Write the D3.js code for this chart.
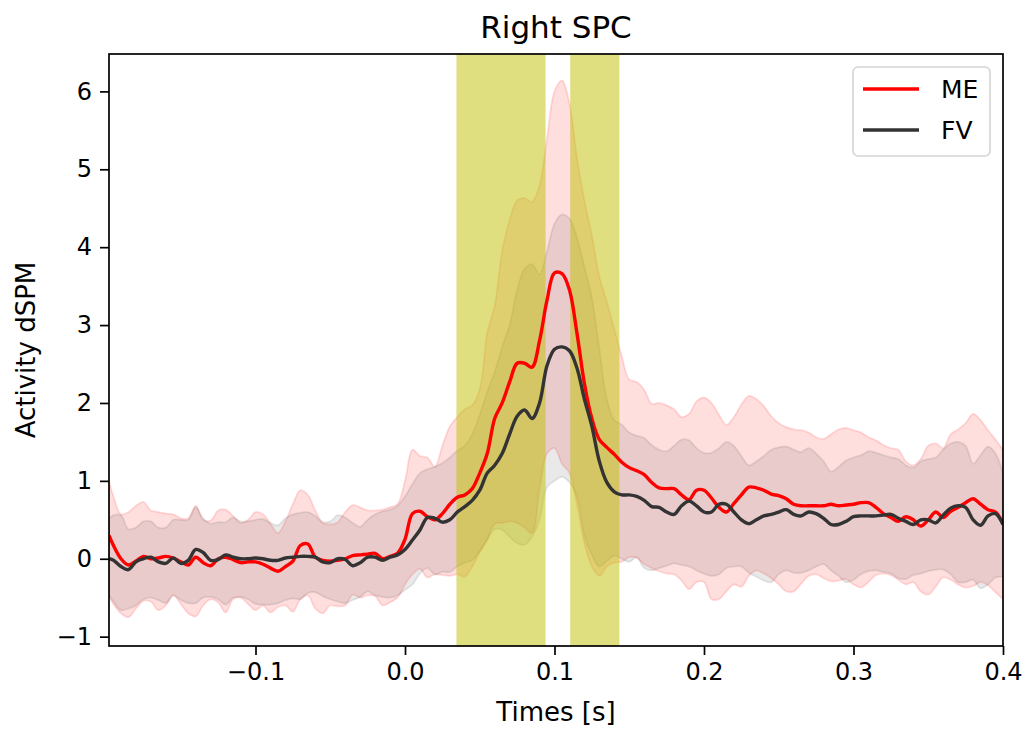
<!DOCTYPE html>
<html>
<head>
<meta charset="utf-8">
<script src="https://cdn.jsdelivr.net/npm/d3@7"></script>
<style>
  html, body { margin: 0; padding: 0; background: #ffffff; }
  svg { display: block; }
  text { font-family: "DejaVu Sans", sans-serif; }
</style>
</head>
<body>
<svg id="chart" width="1025" height="729"></svg>
<script>
// ---------------- data ----------------
const times = [-0.198,-0.195,-0.19,-0.185,-0.18,-0.175,-0.17,-0.165,-0.16,-0.155,-0.15,-0.145,-0.14,-0.135,-0.13,-0.125,-0.12,-0.115,-0.11,-0.105,-0.1,-0.095,-0.09,-0.085,-0.08,-0.075,-0.07,-0.065,-0.06,-0.055,-0.05,-0.045,-0.04,-0.035,-0.03,-0.025,-0.02,-0.015,-0.01,-0.005,0,0.005,0.01,0.015,0.02,0.025,0.03,0.035,0.04,0.045,0.05,0.055,0.06,0.065,0.07,0.075,0.08,0.085,0.09,0.095,0.1,0.105,0.11,0.115,0.12,0.125,0.13,0.135,0.14,0.145,0.15,0.155,0.16,0.165,0.17,0.175,0.18,0.185,0.19,0.195,0.2,0.205,0.21,0.215,0.22,0.225,0.23,0.235,0.24,0.245,0.25,0.255,0.26,0.265,0.27,0.275,0.28,0.285,0.29,0.295,0.3,0.305,0.31,0.315,0.32,0.325,0.33,0.335,0.34,0.345,0.35,0.355,0.36,0.365,0.37,0.375,0.38,0.385,0.39,0.395,0.4];

const meMean = [0.30,0.17,0.0,-0.08,-0.03,0.03,0.0,0.01,0.03,0.01,
-0.04,-0.08,0.02,-0.05,-0.09,0.0,0.02,-0.01,-0.05,-0.04,
-0.04,-0.07,-0.12,-0.16,-0.1,-0.03,0.17,0.19,0.02,-0.02,
-0.03,-0.02,0.0,0.04,0.05,0.06,0.07,0.0,0.03,0.07,
0.25,0.58,0.61,0.54,0.5,0.58,0.7,0.79,0.82,0.9,
1.1,1.35,1.8,2.0,2.27,2.51,2.51,2.46,2.8,3.32,
3.67,3.66,3.45,2.9,2.25,1.8,1.53,1.43,1.34,1.24,
1.17,1.13,1.08,0.98,0.91,0.9,0.9,0.82,0.76,0.88,
0.88,0.78,0.66,0.6,0.71,0.82,0.92,0.91,0.88,0.83,
0.81,0.77,0.7,0.68,0.68,0.68,0.68,0.7,0.68,0.69,
0.7,0.72,0.72,0.66,0.58,0.53,0.48,0.54,0.5,0.42,
0.5,0.6,0.53,0.61,0.66,0.72,0.77,0.7,0.63,0.6,
0.45];

const meUpper = [1.0,0.8,0.57,0.6,0.68,0.73,0.62,0.6,0.58,0.57,
0.52,0.52,0.68,0.5,0.49,0.62,0.63,0.55,0.46,0.5,
0.6,0.57,0.45,0.33,0.48,0.7,0.88,0.82,0.62,0.46,
0.44,0.47,0.6,0.69,0.66,0.62,0.62,0.63,0.66,0.7,
1.0,1.4,1.32,1.3,1.18,1.45,1.7,1.82,1.92,1.97,
2.18,2.9,3.25,3.95,4.35,4.6,4.63,4.58,4.8,5.4,
6.0,6.14,5.85,5.15,4.6,4.15,3.62,3.3,2.95,2.6,
2.3,2.27,2.17,1.99,2.0,1.97,1.92,1.82,1.86,2.02,
2.07,2.0,1.85,1.72,1.82,1.98,2.09,2.05,1.96,1.83,
1.74,1.69,1.66,1.65,1.62,1.56,1.54,1.6,1.66,1.68,
1.65,1.62,1.56,1.52,1.46,1.42,1.4,1.25,1.2,1.28,
1.45,1.48,1.42,1.6,1.66,1.74,1.86,1.78,1.65,1.53,
1.4];

const meLower = [-0.48,-0.58,-0.7,-0.75,-0.64,-0.54,-0.55,-0.66,-0.6,-0.47,
-0.58,-0.7,-0.74,-0.6,-0.52,-0.56,-0.69,-0.52,-0.5,-0.58,
-0.66,-0.6,-0.69,-0.62,-0.6,-0.68,-0.52,-0.47,-0.64,-0.7,
-0.6,-0.61,-0.6,-0.46,-0.5,-0.47,-0.48,-0.6,-0.56,-0.5,
-0.33,-0.2,-0.13,-0.24,-0.2,-0.21,-0.22,-0.2,-0.23,-0.1,
0.08,0.25,0.45,0.46,0.48,0.46,0.4,0.33,0.9,1.35,
1.42,1.22,1.1,0.7,0.2,-0.1,-0.22,-0.1,-0.05,-0.04,
0.02,0.01,-0.07,-0.12,-0.16,-0.19,-0.2,-0.28,-0.39,-0.3,
-0.3,-0.52,-0.52,-0.42,-0.33,-0.36,-0.22,-0.15,-0.19,-0.25,
-0.33,-0.42,-0.42,-0.32,-0.22,-0.2,-0.25,-0.29,-0.28,-0.26,
-0.33,-0.37,-0.3,-0.21,-0.19,-0.21,-0.27,-0.33,-0.3,-0.42,
-0.46,-0.36,-0.24,-0.27,-0.33,-0.37,-0.35,-0.3,-0.34,-0.43,
-0.52];

const fvMean = [0.0,-0.02,-0.1,-0.14,-0.04,0.0,0.02,-0.04,-0.06,0.01,
-0.06,-0.02,0.12,0.08,-0.02,-0.01,0.05,0.02,0.0,0.0,
0.01,0.0,-0.02,-0.02,0.01,0.02,0.03,0.03,0.02,-0.04,
-0.05,0.0,-0.01,-0.09,-0.05,0.02,0.02,-0.02,0.02,0.05,
0.12,0.24,0.37,0.53,0.52,0.47,0.5,0.6,0.67,0.75,
0.88,1.1,1.2,1.35,1.6,1.83,1.91,1.8,2.0,2.48,
2.69,2.72,2.67,2.45,2.05,1.7,1.25,0.98,0.86,0.82,
0.82,0.8,0.75,0.67,0.66,0.6,0.57,0.68,0.74,0.68,
0.6,0.6,0.7,0.7,0.6,0.5,0.45,0.5,0.55,0.57,
0.6,0.63,0.57,0.55,0.6,0.58,0.52,0.44,0.44,0.48,
0.54,0.55,0.55,0.55,0.56,0.57,0.52,0.48,0.44,0.5,
0.5,0.46,0.56,0.65,0.68,0.66,0.5,0.43,0.55,0.58,
0.44];

const fvUpper = [0.52,0.56,0.56,0.38,0.4,0.48,0.48,0.4,0.4,0.5,
0.5,0.5,0.66,0.52,0.45,0.47,0.47,0.53,0.48,0.48,
0.5,0.51,0.46,0.43,0.52,0.57,0.59,0.6,0.55,0.47,
0.48,0.56,0.53,0.46,0.41,0.5,0.57,0.61,0.63,0.68,
0.8,0.96,1.1,1.15,1.18,1.23,1.3,1.39,1.45,1.6,
1.85,2.14,2.4,2.72,3.0,3.45,3.72,3.78,3.65,3.95,
4.3,4.42,4.37,4.12,3.75,3.35,2.7,2.05,1.78,1.72,
1.62,1.58,1.55,1.46,1.4,1.38,1.45,1.53,1.52,1.42,
1.36,1.36,1.42,1.5,1.45,1.32,1.2,1.25,1.32,1.4,
1.43,1.44,1.4,1.37,1.42,1.35,1.25,1.12,1.18,1.26,
1.3,1.33,1.38,1.36,1.33,1.3,1.28,1.2,1.17,1.25,
1.28,1.3,1.4,1.48,1.5,1.45,1.22,1.33,1.44,1.35,
1.1];

const fvLower = [-0.47,-0.55,-0.66,-0.64,-0.6,-0.52,-0.5,-0.53,-0.57,-0.47,
-0.53,-0.57,-0.57,-0.5,-0.49,-0.52,-0.59,-0.5,-0.49,-0.52,
-0.58,-0.59,-0.59,-0.57,-0.53,-0.51,-0.52,-0.44,-0.43,-0.48,
-0.52,-0.55,-0.57,-0.53,-0.49,-0.42,-0.47,-0.49,-0.5,-0.47,
-0.4,-0.33,-0.19,-0.12,-0.2,-0.17,-0.17,-0.1,-0.05,-0.02,
0.1,0.24,0.38,0.37,0.28,0.2,0.18,0.28,0.5,0.92,
1.0,1.05,0.98,0.8,0.3,0.05,-0.1,-0.03,0.04,0.0,
-0.04,0.02,-0.12,-0.15,-0.12,-0.09,-0.06,-0.08,-0.1,-0.15,
-0.19,-0.22,-0.2,-0.12,-0.1,-0.1,-0.18,-0.23,-0.28,-0.3,
-0.2,-0.15,-0.18,-0.18,-0.15,-0.1,-0.07,-0.15,-0.22,-0.3,
-0.27,-0.2,-0.16,-0.15,-0.17,-0.19,-0.25,-0.26,-0.21,-0.19,
-0.16,-0.14,-0.14,-0.2,-0.3,-0.3,-0.27,-0.38,-0.33,-0.24,
-0.23];

const spanStarts = [0.0344, 0.1105];
const spanEnds   = [0.0940, 0.1434];

const xTickValues = [-0.1, 0.0, 0.1, 0.2, 0.3, 0.4];
const xTickLabels = ["\u22120.1", "0.0", "0.1", "0.2", "0.3", "0.4"];
const yTickValues = [-1, 0, 1, 2, 3, 4, 5, 6];
const yTickLabels = ["\u22121", "0", "1", "2", "3", "4", "5", "6"];

const seriesNames = ["ME", "FV"];
const titleText = "Right SPC";
const xLabelText = "Times [s]";
const yLabelText = "Activity dSPM";

// ---------------- layout ----------------
const W = 1025, H = 729;
const plot = { left: 109, top: 54, right: 1003, bottom: 646 };

const svg = d3.select("#chart");

const x = d3.scaleLinear().domain([-0.198, 0.4]).range([plot.left, plot.right]);
const y = d3.scaleLinear().domain([-1.12, 6.48]).range([plot.bottom, plot.top]);

svg.append("defs").append("clipPath").attr("id", "clip")
  .append("rect")
  .attr("x", plot.left).attr("y", plot.top)
  .attr("width", plot.right - plot.left).attr("height", plot.bottom - plot.top);

const g = svg.append("g").attr("clip-path", "url(#clip)");

const idx = d3.range(times.length);
const curve = d3.curveCatmullRom.alpha(0.5);

function bandArea(lo, hi) {
  return d3.area().curve(curve)
    .x(i => x(times[i])).y0(i => y(lo[i])).y1(i => y(hi[i]));
}
function meanLine(vals) {
  return d3.line().curve(curve).x(i => x(times[i])).y(i => y(vals[i]));
}

// ME band
g.append("path").datum(idx)
  .attr("d", bandArea(meLower, meUpper))
  .attr("fill", "rgb(255,0,0)").attr("fill-opacity", 0.13)
  .attr("stroke", "rgb(255,0,0)").attr("stroke-opacity", 0.13).attr("stroke-width", 1.8);

// FV band
g.append("path").datum(idx)
  .attr("d", bandArea(fvLower, fvUpper))
  .attr("fill", "rgb(51,51,51)").attr("fill-opacity", 0.11)
  .attr("stroke", "rgb(51,51,51)").attr("stroke-opacity", 0.11).attr("stroke-width", 1.8);

// highlighted spans
g.selectAll("rect.span").data(d3.range(spanStarts.length)).enter()
  .append("rect").attr("class", "span")
  .attr("x", i => x(spanStarts[i]))
  .attr("width", i => x(spanEnds[i]) - x(spanStarts[i]))
  .attr("y", plot.top).attr("height", plot.bottom - plot.top)
  .attr("fill", "rgb(191,191,0)").attr("fill-opacity", 0.5);

// mean lines
g.append("path").datum(idx)
  .attr("d", meanLine(meMean))
  .attr("fill", "none").attr("stroke", "#ff0000").attr("stroke-width", 3.4)
  .attr("stroke-linejoin", "round").attr("stroke-linecap", "butt");
g.append("path").datum(idx)
  .attr("d", meanLine(fvMean))
  .attr("fill", "none").attr("stroke", "#333333").attr("stroke-width", 3.4)
  .attr("stroke-linejoin", "round").attr("stroke-linecap", "butt");

// axes
const xAxis = d3.axisBottom(x).tickValues(xTickValues)
  .tickFormat((d, i) => xTickLabels[i]).tickSize(9).tickPadding(8).tickSizeOuter(0);
const yAxis = d3.axisLeft(y).tickValues(yTickValues)
  .tickFormat((d, i) => yTickLabels[i]).tickSize(9).tickPadding(8).tickSizeOuter(0);

const gx = svg.append("g").attr("transform", `translate(0,${plot.bottom})`).call(xAxis);
const gy = svg.append("g").attr("transform", `translate(${plot.left},0)`).call(yAxis);
[gx, gy].forEach(a => {
  a.select(".domain").remove();
  a.selectAll(".tick line").attr("stroke", "#000").attr("stroke-width", 1.7);
  a.selectAll(".tick text").attr("fill", "#000")
    .style("font-family", "'DejaVu Sans', sans-serif").style("font-size", "24px");
});

// frame
svg.append("rect")
  .attr("x", plot.left).attr("y", plot.top)
  .attr("width", plot.right - plot.left).attr("height", plot.bottom - plot.top)
  .attr("fill", "none").attr("stroke", "#000").attr("stroke-width", 1.7);

// title & labels
svg.append("text").attr("x", (plot.left + plot.right) / 2).attr("y", 38)
  .attr("text-anchor", "middle").style("font-size", "31px").attr("fill", "#000")
  .text(titleText);
svg.append("text").attr("x", (plot.left + plot.right) / 2).attr("y", 721)
  .attr("text-anchor", "middle").style("font-size", "26px").attr("fill", "#000")
  .text(xLabelText);
svg.append("text")
  .attr("transform", `translate(35,${(plot.top + plot.bottom) / 2}) rotate(-90)`)
  .attr("text-anchor", "middle").style("font-size", "26px").attr("fill", "#000")
  .text(yLabelText);

// legend
const legend = svg.append("g");
legend.append("rect")
  .attr("x", 853).attr("y", 67).attr("width", 137).attr("height", 89).attr("rx", 5)
  .attr("fill", "#fff").attr("fill-opacity", 0.8)
  .attr("stroke", "#d4d4d4").attr("stroke-width", 1.6);
const legendColors = ["#ff0000", "#333333"];
const legendY = [89, 130];
seriesNames.forEach((name, i) => {
  legend.append("line")
    .attr("x1", 863).attr("x2", 919).attr("y1", legendY[i]).attr("y2", legendY[i])
    .attr("stroke", legendColors[i]).attr("stroke-width", 3.4);
  legend.append("text")
    .attr("x", 941).attr("y", legendY[i]).attr("dy", "0.36em")
    .style("font-size", "25px").attr("fill", "#000").text(name);
});
</script>
</body>
</html>
